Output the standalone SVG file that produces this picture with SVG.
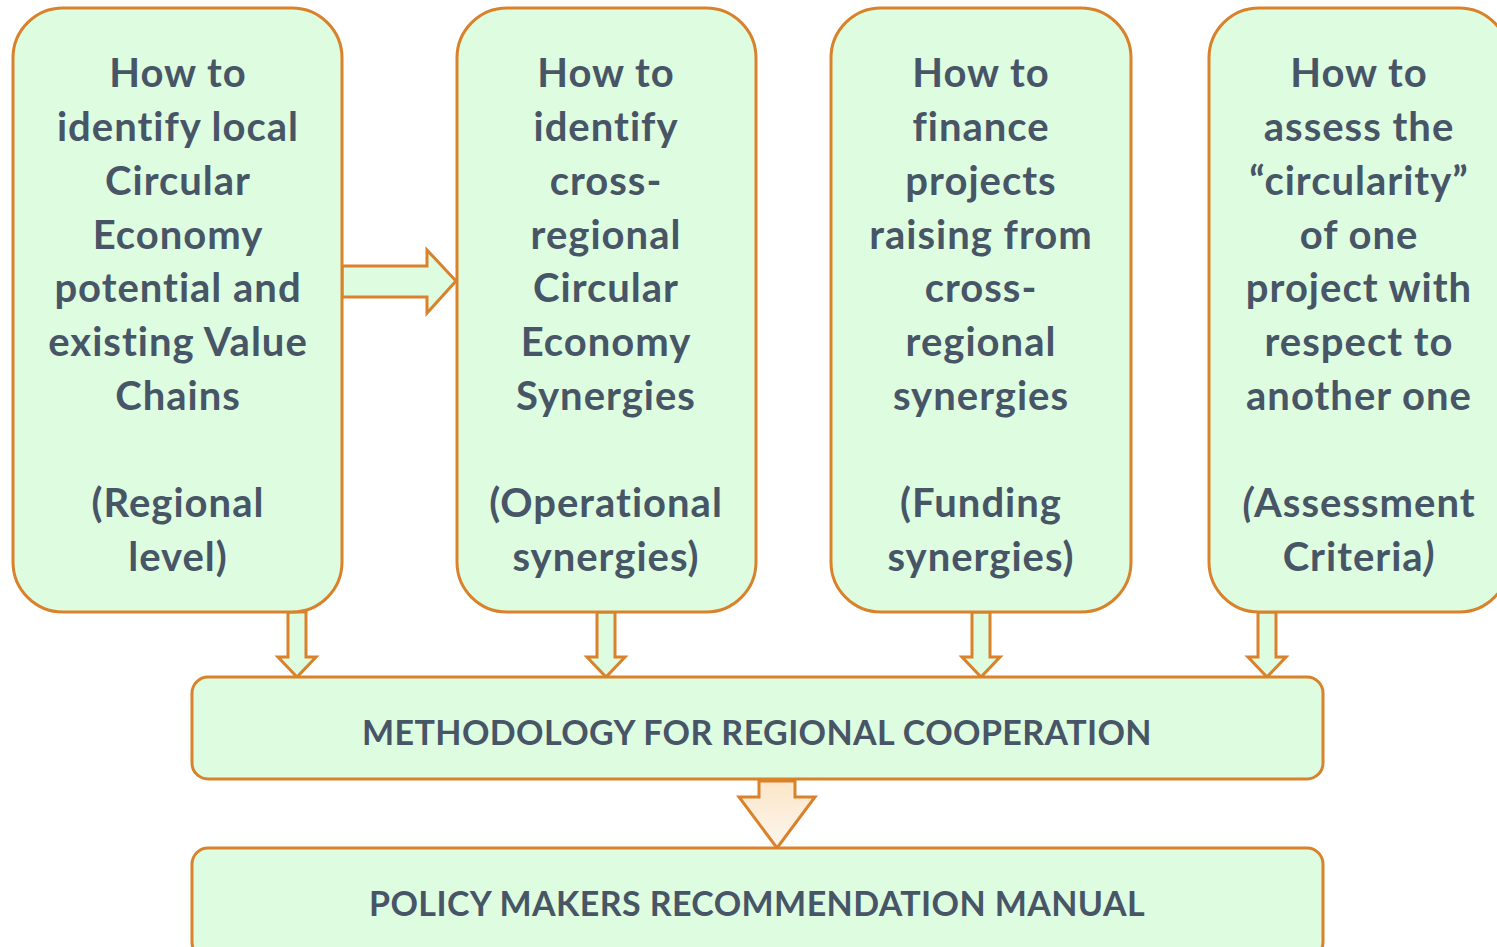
<svg xmlns="http://www.w3.org/2000/svg" width="1497" height="947" viewBox="0 0 1497 947">
<defs>
<linearGradient id="beige" x1="0" y1="0" x2="0" y2="1">
<stop offset="0" stop-color="#fbe6c8"/>
<stop offset="1" stop-color="#fdf6ee"/>
</linearGradient>
<style>
.box{fill:#ddfce0;stroke:#d9822b;stroke-width:3}
.arr{fill:#ddfce0;stroke:#d9822b;stroke-width:3;stroke-linejoin:miter}
.t{font-family:Lato,"Open Sans","Liberation Sans",sans-serif;font-weight:bold;font-size:40px;letter-spacing:1px;fill:#475566;text-anchor:middle}
.b{font-size:34px;letter-spacing:0.4px}
</style>
</defs>
<rect width="1497" height="947" fill="#ffffff"/>
<g id="connectors">
<path class="arr" d="M342,266 H427 V250 L456,281 L427,313 V297 H342 Z"/>
<path class="arr" d="M288,612 V657 H278 L297,677 L316,657 H306 V612 Z"/>
<path class="arr" d="M597,612 V657 H587 L606,677 L625,657 H615 V612 Z"/>
<path class="arr" d="M972,612 V657 H962 L981,677 L1000,657 H990 V612 Z"/>
<path class="arr" d="M1258,612 V657 H1248 L1267,677 L1286,657 H1276 V612 Z"/>
<path d="M759,781 V797 H739 L777,848 L815,797 H795 V781 Z" fill="url(#beige)" stroke="#d9822b" stroke-width="3"/>
</g>
<g id="n1">
<rect class="box" x="13" y="8" width="329" height="604" rx="50"/>
<text class="t"><tspan x="178" y="87">How to</tspan><tspan x="178" y="141">identify local</tspan><tspan x="178" y="195">Circular</tspan><tspan x="178" y="249">Economy</tspan><tspan x="178" y="302">potential and</tspan><tspan x="178" y="356">existing Value</tspan><tspan x="178" y="410">Chains</tspan><tspan x="178" y="517">(Regional</tspan><tspan x="178" y="571">level)</tspan></text>
</g>
<g id="n2">
<rect class="box" x="457" y="8" width="299" height="604" rx="50"/>
<text class="t"><tspan x="606" y="87">How to</tspan><tspan x="606" y="141">identify</tspan><tspan x="606" y="195">cross-</tspan><tspan x="606" y="249">regional</tspan><tspan x="606" y="302">Circular</tspan><tspan x="606" y="356">Economy</tspan><tspan x="606" y="410">Synergies</tspan><tspan x="606" y="517">(Operational</tspan><tspan x="606" y="571">synergies)</tspan></text>
</g>
<g id="n3">
<rect class="box" x="831" y="8" width="300" height="604" rx="50"/>
<text class="t"><tspan x="981" y="87">How to</tspan><tspan x="981" y="141">finance</tspan><tspan x="981" y="195">projects</tspan><tspan x="981" y="249">raising from</tspan><tspan x="981" y="302">cross-</tspan><tspan x="981" y="356">regional</tspan><tspan x="981" y="410">synergies</tspan><tspan x="981" y="517">(Funding</tspan><tspan x="981" y="571">synergies)</tspan></text>
</g>
<g id="n4">
<rect class="box" x="1209" y="8" width="300" height="604" rx="50"/>
<text class="t"><tspan x="1359" y="87">How to</tspan><tspan x="1359" y="141">assess the</tspan><tspan x="1359" y="195">“circularity”</tspan><tspan x="1359" y="249">of one</tspan><tspan x="1359" y="302">project with</tspan><tspan x="1359" y="356">respect to</tspan><tspan x="1359" y="410">another one</tspan><tspan x="1359" y="517"><tspan font-style="italic">(</tspan>Assessment</tspan><tspan x="1359" y="571">Criteria<tspan font-style="italic">)</tspan></tspan></text>
</g>
<g id="n5">
<rect class="box" x="192" y="677" width="1131" height="102" rx="16"/>
<text class="t b" x="757" y="745">METHODOLOGY FOR REGIONAL COOPERATION</text>
</g>
<g id="n6">
<rect class="box" x="192" y="848" width="1131" height="110" rx="16"/>
<text class="t b" x="757" y="916">POLICY MAKERS RECOMMENDATION MANUAL</text>
</g>
</svg>
